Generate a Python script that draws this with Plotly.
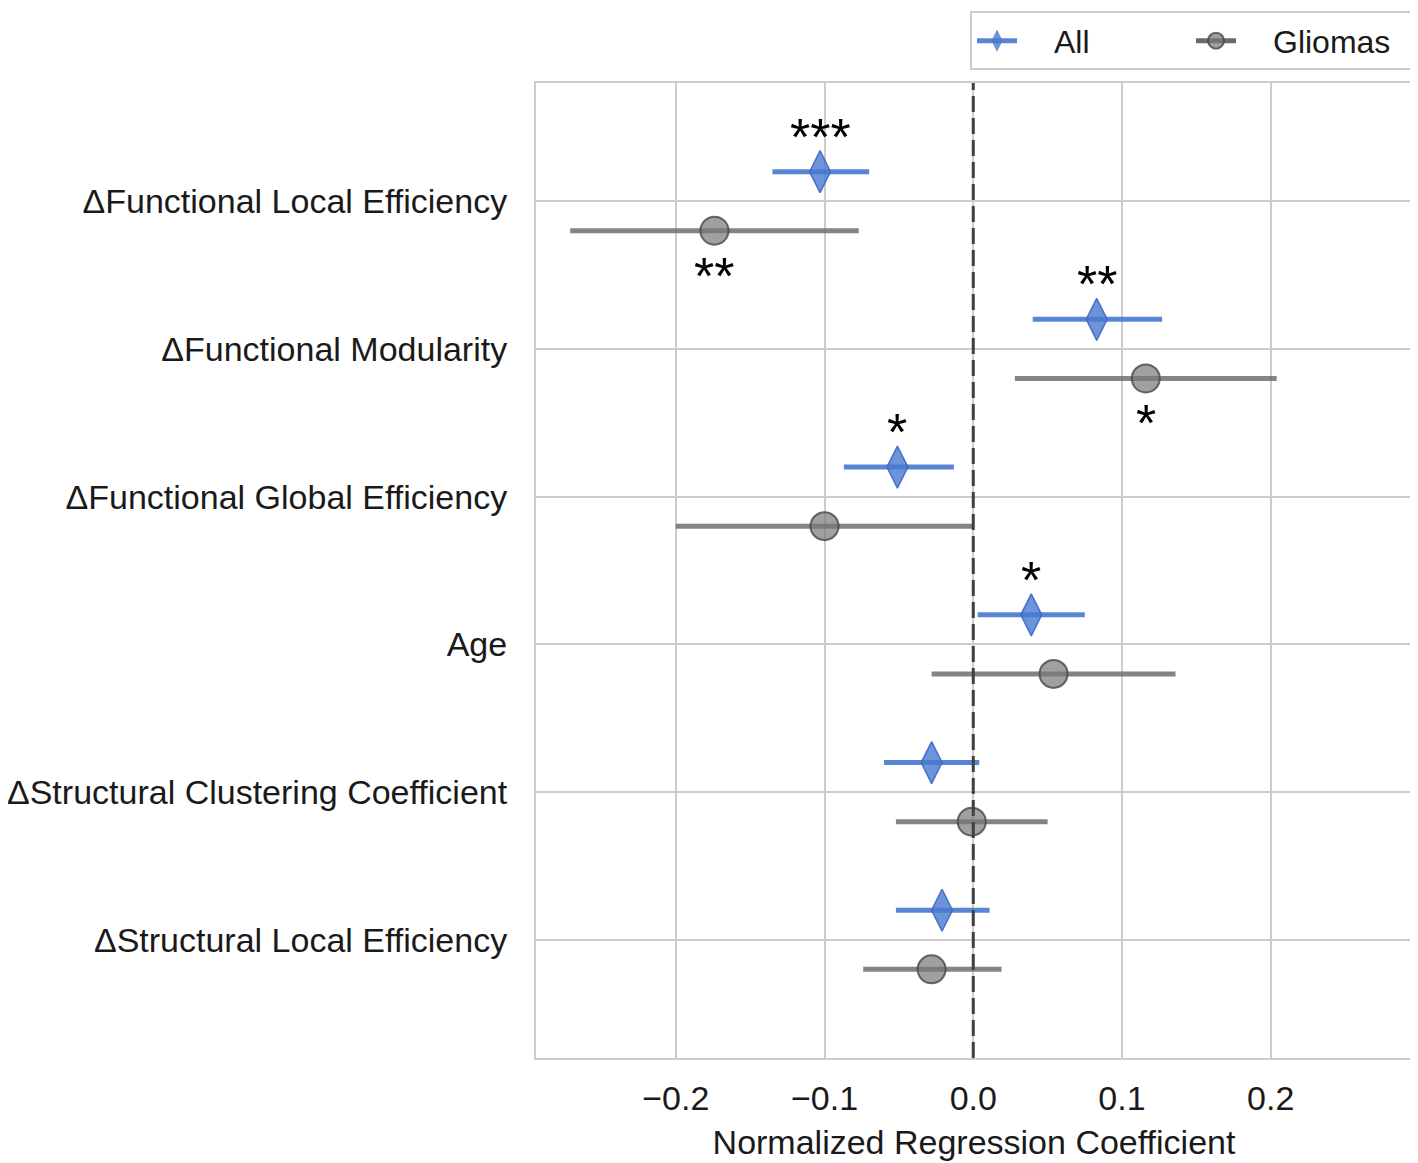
import plotly.graph_objects as go

features = [
    "ΔFunctional Local Efficiency",
    "ΔFunctional Modularity",
    "ΔFunctional Global Efficiency",
    "Age",
    "ΔStructural Clustering Coefficient",
    "ΔStructural Local Efficiency",
]

# coefficient estimates and confidence interval limits
all_coef = [-0.103, 0.083, -0.051, 0.039, -0.028, -0.021]
all_low = [-0.135, 0.040, -0.087, 0.003, -0.060, -0.052]
all_high = [-0.070, 0.127, -0.013, 0.075, 0.004, 0.011]
all_stars = ["***", "**", "*", "*", "", ""]

gli_coef = [-0.174, 0.116, -0.100, 0.054, -0.001, -0.028]
gli_low = [-0.271, 0.028, -0.200, -0.028, -0.052, -0.074]
gli_high = [-0.077, 0.204, 0.000, 0.136, 0.050, 0.019]
gli_stars = ["**", "*", "", "", "", ""]

x_ticks = [-0.2, -0.1, 0.0, 0.1, 0.2]

font = "Liberation Sans, Arial, sans-serif"

ypos = list(range(len(features)))
all_y = [y - 0.2 for y in ypos]
gli_y = [y + 0.2 for y in ypos]

fig = go.Figure()

fig.add_trace(go.Scatter(
    x=all_coef, y=all_y, mode="markers", showlegend=False,
    marker=dict(symbol="diamond-tall", size=30, color="rgba(72,120,208,0.8)",
                line=dict(color="rgba(60,105,200,0.9)", width=1.5)),
    error_x=dict(type="data", symmetric=False,
                 array=[h - c for h, c in zip(all_high, all_coef)],
                 arrayminus=[c - l for c, l in zip(all_coef, all_low)],
                 color="rgba(72,120,208,0.9)", thickness=5, width=0),
))
fig.add_trace(go.Scatter(
    x=gli_coef, y=gli_y, mode="markers", showlegend=False,
    marker=dict(symbol="circle", size=28, color="rgba(120,120,120,0.7)",
                line=dict(color="rgba(70,70,70,0.8)", width=2)),
    error_x=dict(type="data", symmetric=False,
                 array=[h - c for h, c in zip(gli_high, gli_coef)],
                 arrayminus=[c - l for c, l in zip(gli_coef, gli_low)],
                 color="rgba(110,110,110,0.85)", thickness=5, width=0),
))

# legend entries (line through marker, like errorbar handles)
fig.add_trace(go.Scatter(
    x=[None], y=[None], mode="lines+markers", name="\u2003All",
    line=dict(color="rgba(72,120,208,0.9)", width=5),
    marker=dict(symbol="diamond-tall", size=30, color="rgba(72,120,208,0.8)"),
))
fig.add_trace(go.Scatter(
    x=[None], y=[None], mode="lines+markers", name="\u2003Gliomas",
    line=dict(color="rgba(90,90,90,0.9)", width=5),
    marker=dict(symbol="circle", size=28, color="rgba(120,120,120,0.7)",
                line=dict(color="rgba(70,70,70,0.8)", width=2)),
))

for x, y, s in zip(all_coef, all_y, all_stars):
    if s:
        fig.add_annotation(x=x, y=y, text=s, showarrow=False, yshift=35,
                           font=dict(family=font, size=52, color="black"))
for x, y, s in zip(gli_coef, gli_y, gli_stars):
    if s:
        fig.add_annotation(x=x, y=y, text=s, showarrow=False, yshift=-45,
                           font=dict(family=font, size=52, color="black"))

fig.add_shape(type="line", x0=0, x1=0, xref="x", y0=0, y1=1, yref="paper",
              line=dict(color="#404040", width=3, dash="16px,6px"), layer="above")

fig.update_layout(
    width=1410, height=1155,
    margin=dict(l=528, r=6, t=75, b=105, autoexpand=False),
    paper_bgcolor="white", plot_bgcolor="white",
    font=dict(family=font, size=34, color="#1a1a1a"),
    showlegend=True,
    legend=dict(orientation="h", x=1, xanchor="right", y=1.013, yanchor="bottom",
                bordercolor="#cccccc", borderwidth=2, font=dict(size=32),
                entrywidth=164, itemwidth=40),
    xaxis=dict(range=[-0.294, 0.295], tickvals=x_ticks,
               ticktext=[f"{v:.1f}".replace("-", "−") for v in x_ticks],
               showgrid=True, gridcolor="#cccccc", gridwidth=2,
               zeroline=False, showline=True, linecolor="#cccccc", linewidth=2,
               mirror=True, ticks="", ticklabelstandoff=9, automargin=False,
               title=dict(text="Normalized Regression Coefficient", standoff=14,
                          font=dict(size=34))),
    yaxis=dict(range=[5.8, -0.8], tickvals=ypos, ticktext=features,
               showgrid=True, gridcolor="#cccccc", gridwidth=2,
               zeroline=False, showline=True, linecolor="#cccccc", linewidth=2,
               mirror=True, ticks="", ticklabelstandoff=20, automargin=False),
)

fig.write_html("out.html")
